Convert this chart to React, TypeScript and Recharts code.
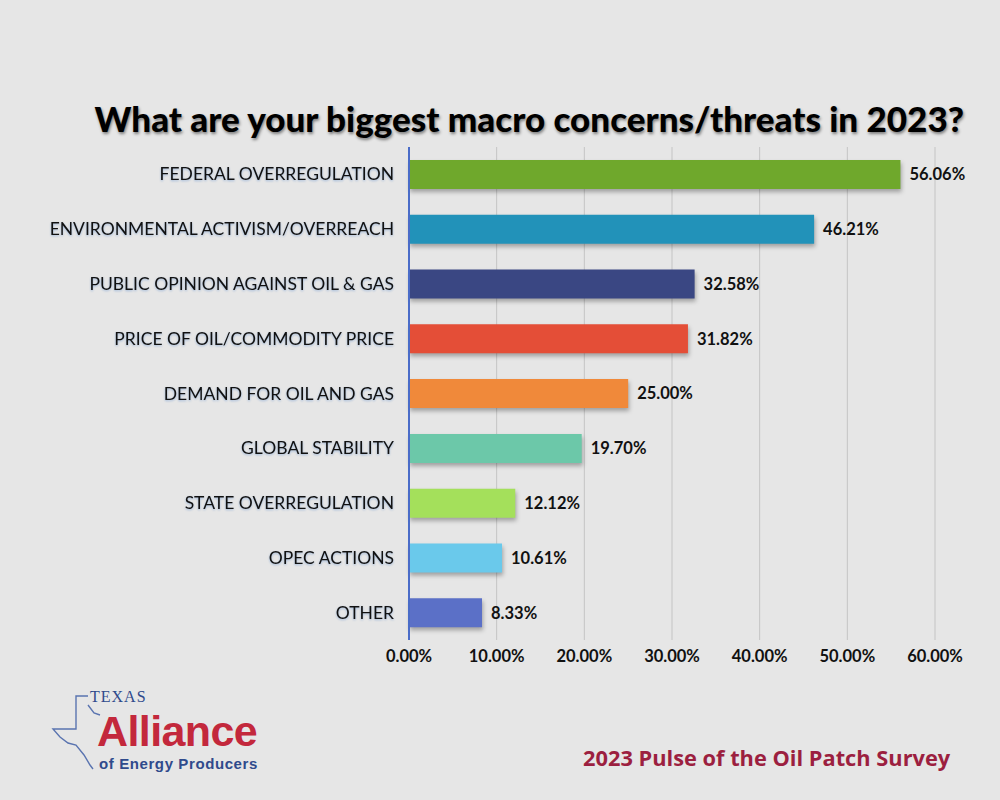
import React from "react";
import { BarChart, Bar, XAxis, YAxis, CartesianGrid, Cell, LabelList } from "recharts";

const categories = [
  "FEDERAL OVERREGULATION",
  "ENVIRONMENTAL ACTIVISM/OVERREACH",
  "PUBLIC OPINION AGAINST OIL & GAS",
  "PRICE OF OIL/COMMODITY PRICE",
  "DEMAND FOR OIL AND GAS",
  "GLOBAL STABILITY",
  "STATE OVERREGULATION",
  "OPEC ACTIONS",
  "OTHER",
];
const values = [56.06, 46.21, 32.58, 31.82, 25.0, 19.7, 12.12, 10.61, 8.33];
const barColors = [
  "#6fa82c",
  "#2292b9",
  "#3a4783",
  "#e44e37",
  "#f0893a",
  "#6cc8a9",
  "#a4e05b",
  "#6ac9eb",
  "#5b70c7",
];
const xTicks = [0, 10, 20, 30, 40, 50, 60];

const data = categories.map((name, i) => ({ name, value: values[i] }));

const fmt = (v: number) => `${Number(v).toFixed(2)}%`;

const YTick = (props: any) => {
  const { x, y, payload } = props;
  return (
    <text
      x={x - 7}
      y={y}
      dy={6}
      textAnchor="end"
      fontFamily="Lato, 'Noto Sans', sans-serif"
      fontSize={17.5}
      fill="#111"
      style={{ filter: "drop-shadow(0px 1px 1px rgba(60,120,200,0.45))" }}
    >
      {payload.value}
    </text>
  );
};

const XTick = (props: any) => {
  const { x, y, payload } = props;
  return (
    <text
      x={x}
      y={y}
      dy={14}
      textAnchor="middle"
      fontFamily="Lato, 'Noto Sans', sans-serif"
      fontWeight={700}
      fontSize={16.5}
      fill="#111"
    >
      {fmt(payload.value)}
    </text>
  );
};

const Logo = () => (
  <svg width={240} height={100} style={{ position: "absolute", left: 40, top: 685 }}>
    <path
      d="M48 11 L36 11 L36 44 L13 44 L20 52 L28 58 L36 60 L44 70 L50 80 L53 84"
      fill="none"
      stroke="#5a74b0"
      strokeWidth={1.4}
    />
    <path d="M48 20 L54 28 L60 30" fill="none" stroke="#5a74b0" strokeWidth={1.4} />
    <text x={50} y={17} fontFamily="'Liberation Serif', serif" fontSize={16} fill="#2f4a8c" letterSpacing={1}>
      TEXAS
    </text>
    <text x={57} y={61} fontFamily="'Liberation Sans', Arial, sans-serif" fontWeight={700} fontSize={43} fill="#c3283c" letterSpacing={-0.6}>
      Alliance
    </text>
    <text x={59} y={84} fontFamily="'Liberation Sans', Arial, sans-serif" fontWeight={700} fontSize={15} fill="#2f4a8c" letterSpacing={0.6}>
      of Energy Producers
    </text>
  </svg>
);

export default function App() {
  return (
    <div
      style={{
        position: "absolute",
        left: 0,
        top: 0,
        width: 1000,
        height: 800,
        background: "#e6e6e6",
        overflow: "hidden",
      }}
    >
      <div
        style={{
          position: "absolute",
          left: 0,
          width: 1000,
          top: 96,
          textAlign: "right",
          paddingRight: 36,
          boxSizing: "border-box",
          fontFamily: "Lato, 'Noto Sans', sans-serif",
          fontWeight: 900,
          fontSize: 35,
          lineHeight: "44px",
          color: "#000",
          whiteSpace: "nowrap",
          textShadow: "1px 2px 3px rgba(0,0,0,0.45)",
          letterSpacing: 0,
        }}
      >
        What are your biggest macro concerns/threats in 2023?
      </div>
      <div style={{ position: "absolute", left: 0, top: 0 }}>
        <BarChart
          width={1000}
          height={800}
          data={data}
          layout="vertical"
          margin={{ top: 147, right: 65, bottom: 130, left: 0 }}
        >
          <CartesianGrid horizontal={false} vertical={true} stroke="#c4c4c4" strokeWidth={1} />
          <XAxis
            type="number"
            domain={[0, 60]}
            ticks={xTicks}
            axisLine={false}
            tickLine={false}
            tick={<XTick />}
            height={30}
            interval={0}
          />
          <YAxis
            type="category"
            dataKey="name"
            width={409}
            axisLine={{ stroke: "#4a6cc8", strokeWidth: 2 }}
            tickLine={false}
            tick={<YTick />}
            interval={0}
          />
          <Bar dataKey="value" isAnimationActive={false} barSize={29}>
            {data.map((d, i) => (
              <Cell
                key={d.name}
                fill={barColors[i]}
                style={{ filter: "drop-shadow(1px 3px 2px rgba(0,0,0,0.3))" }}
              />
            ))}
            <LabelList
              dataKey="value"
              position="right"
              offset={9}
              formatter={(v: any) => fmt(v)}
              style={{
                fontFamily: "Lato, 'Noto Sans', sans-serif",
                fontWeight: 700,
                fontSize: 16.5,
                fill: "#111",
              }}
            />
          </Bar>
        </BarChart>
      </div>
      <Logo />
      <div
        style={{
          position: "absolute",
          left: 583,
          top: 743,
          fontFamily: "'Open Sans', 'Noto Sans', sans-serif",
          fontWeight: 700,
          fontSize: 21.8,
          color: "#9c1f40",
          whiteSpace: "nowrap",
        }}
      >
        2023 Pulse of the Oil Patch Survey
      </div>
    </div>
  );
}
